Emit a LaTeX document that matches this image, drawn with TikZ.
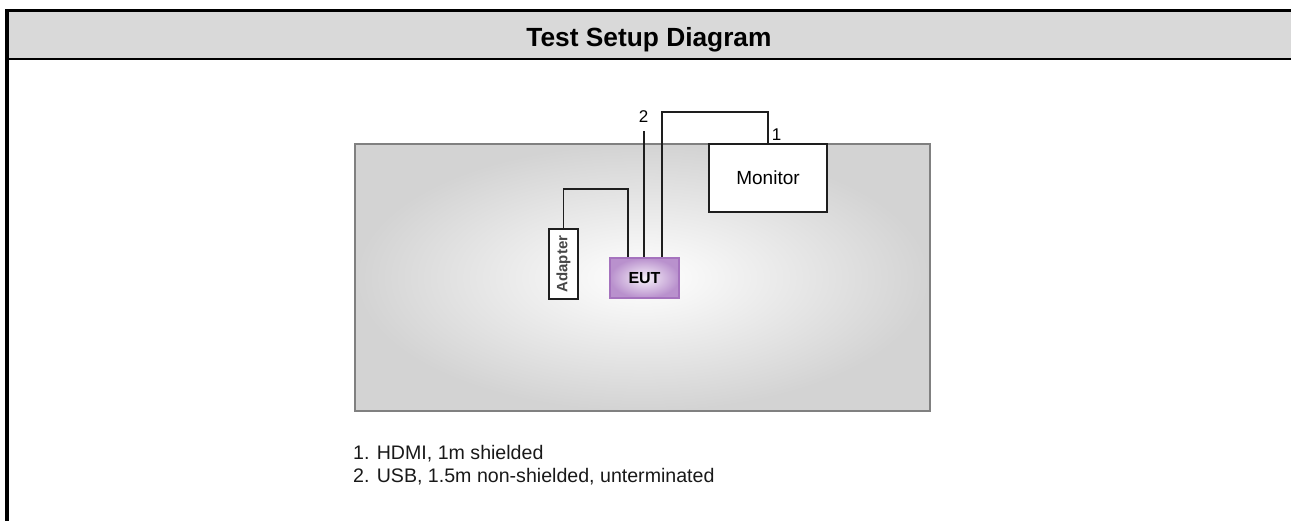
\documentclass[tikz,border=0pt]{standalone}
\usepackage{fontspec}
\setmainfont{Liberation Sans}
\definecolor{headgray}{RGB}{217,217,217}
\definecolor{boardout}{RGB}{211,211,211}
\definecolor{boardedge}{RGB}{128,128,128}
\definecolor{eutin}{RGB}{248,242,250}
\definecolor{eutout}{RGB}{185,145,205}
\definecolor{eutedge}{RGB}{165,115,190}
\definecolor{cablecol}{RGB}{30,30,30}
\begin{document}
\begin{tikzpicture}[x=1pt,y=-1pt,
  frameline/.style={line width=#1, black},
  board/.style={draw=boardedge, line width=1.3pt, inner color=white, outer color=boardout, minimum width=575pt, minimum height=267pt, inner sep=0pt},
  devbox/.style={draw=cablecol, fill=white, line width=1.3pt, inner sep=0pt},
  eutbox/.style={draw=eutedge, line width=1.2pt, inner color=eutin, outer color=eutout, inner sep=0pt, minimum width=69pt, minimum height=40pt},
  cable/.style={draw=cablecol, line width=1.4pt},
  cablelabel/.style={inner sep=0pt, font=\fontsize{17}{20}\selectfont},
  legend/.style={anchor=base west, inner sep=0pt, font=\fontsize{19.6}{23}\selectfont, text=black!90}
]
\useasboundingbox (0,0) rectangle (1291,520);
% header band and frame
\fill[headgray] (7,10.5) rectangle (1300,59);
\draw[frameline=3pt] (5,10.5) -- (1300,10.5);
\draw[frameline=2.5pt] (7,59) -- (1300,59);
\draw[frameline=4pt] (7,9) -- (7,525);
\node[anchor=base, inner sep=0pt, font=\fontsize{26.3}{30}\selectfont\bfseries] (title) at (649,46) {Test Setup Diagram};
% table
\node[board] (table) at (642.5,277.5) {};
% devices
\node[devbox, minimum width=118pt, minimum height=68pt, font=\fontsize{19}{22}\selectfont] (monitor) at (768,178) {Monitor};
\node[devbox, minimum width=29pt, minimum height=70pt] (adapter) at (563.5,264) {};
\node[rotate=90, inner sep=0pt, font=\fontsize{15}{18}\selectfont\bfseries, text=black!72] (adaptertext) at (adapter.center) {Adapter};
\node[eutbox, font=\fontsize{16}{18}\selectfont\bfseries] (eut) at (644.5,278) {EUT};
% cables
\coordinate (a1) at (628,189);
\draw[cable] (adapter.north) |- (a1) -- (a1 |- eut.north);
\coordinate (u2) at (644,131);
\draw[cable] (u2) -- (u2 |- eut.north);
\coordinate (h1) at (662,112);
\draw[cable] (h1 |- eut.north) -- (h1) -| (monitor.north);
\node[cablelabel] (lab2) at (643.5,117) {2};
\node[cablelabel] (lab1) at (776.5,135) {1};
% legend
\node[legend] (leg1) at (353,459) {1. HDMI, 1m shielded};
\node[legend] (leg2) at (353,482) {2. USB, 1.5m non-shielded, unterminated};
\end{tikzpicture}
\end{document}
